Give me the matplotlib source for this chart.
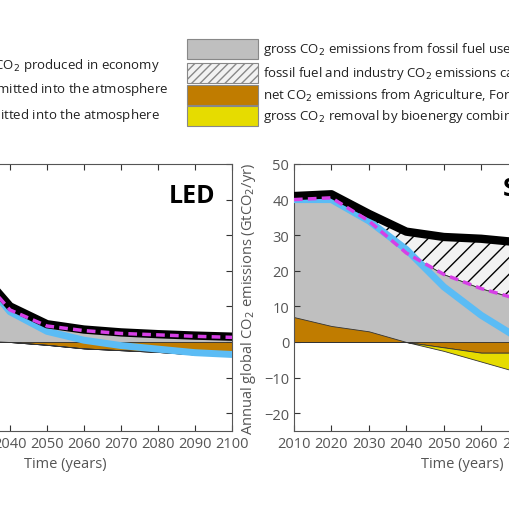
import numpy as np
import matplotlib.pyplot as plt
import matplotlib.patches as mpatches

plt.rcParams['font.family'] = ['Open Sans', 'DejaVu Sans']

years = [2010, 2020, 2030, 2040, 2050, 2060, 2070, 2080, 2090, 2100]

# LED
led_total = [40, 38, 22, 10, 5, 3.5, 2.7, 2.2, 1.8, 1.5]
led_fossil = [38, 36, 21, 9, 4.5, 3.2, 2.4, 2.0, 1.6, 1.3]
led_afolu = [3, 1.5, 0.5, 0, -0.8, -1.8, -2.3, -2.8, -3.5, -3.8]
led_net = [40, 38, 21, 8.5, 3, 0.5, -1, -2, -3, -3.5]

# S1
s1_total = [41, 41.5, 36, 31, 29.5, 29, 28, 27, 26.5, 26]
s1_fossil = [40, 40.5, 34, 25, 19, 15, 12, 10, 9, 8]
s1_afolu = [7, 4.5, 3, 0, -1.5, -3, -3, -3, -3, -3]
s1_beccs = [0, 0, 0, 0, 1, 2.5, 5.5, 9, 11, 12]
s1_net = [40, 40, 34, 26, 15.5, 7.5, 1, -5, -9, -12]


def panel(ax, total, fossil, afolu, net, beccs=None):
    y = np.array(years)
    total = np.array(total)
    fossil = np.array(fossil)
    afolu = np.array(afolu)
    beccs = np.zeros(len(y)) if beccs is None else np.array(beccs)
    ax.fill_between(y, 0, fossil, color='#bfbfbf', ec='#555555', lw=0.6, zorder=1)
    ax.fill_between(y, fossil, total, facecolor='#f2f2f2', edgecolor='black', hatch='//', lw=0.4, zorder=1)
    ax.fill_between(y, 0, afolu, color='#c07c00', ec='#333333', lw=0.6, zorder=2)
    low = np.minimum(afolu, 0)
    ax.fill_between(y, low, low - beccs, color='#e6dc00', ec='#333333', lw=0.6, zorder=2)
    ax.plot(y, net, color='#5bbcf5', lw=5, zorder=3)
    ax.plot(y, total, color='black', lw=6, zorder=4)
    ax.plot(y, fossil, color='#d63fe6', lw=2.5, ls=(0, (2.5, 1.5)), zorder=5)
    ax.set_xlim(2010, 2100)
    ax.set_ylim(-25, 50)
    ax.set_xticks(years)
    ax.set_yticks(range(-20, 51, 10))
    ax.tick_params(direction='in', top=True, right=True, labelsize=10.5, colors='#333333', labelcolor='#555555', length=4)
    ax.set_xlabel('Time (years)', color='#555555', fontsize=10.5)
    for s in ax.spines.values():
        s.set_color('#555555')


W = 510.0
fig = plt.figure(figsize=(5.1, 5.1), dpi=100)

ax1 = fig.add_axes([-101 / W, 78 / W, 333 / W, 267 / W])
panel(ax1, led_total, led_fossil, led_afolu, led_net)
ax1.text(0.95, 0.93, 'LED', transform=ax1.transAxes, ha='right', va='top', fontsize=18, fontweight='bold')

ax2 = fig.add_axes([294 / W, 78 / W, 337 / W, 267 / W])
panel(ax2, s1_total, s1_fossil, s1_afolu, s1_net, s1_beccs)
ax2.set_ylabel('Annual global CO$_2$ emissions (GtCO$_2$/yr)', color='#555555', fontsize=10.5)
fig.text(503 / W, 1 - 190 / W, 'S1', ha='left', va='center', fontsize=18, fontweight='bold')

# legend, left column (lines)
line_labels = ['total CO$_2$ produced in economy',
               'net CO$_2$ emissions emitted into the atmosphere',
               'fossil fuel CO$_2$ emitted into the atmosphere']
line_y = [65, 90, 115]
line_end = [160, 168, 160]
for lab, yy, xe in zip(line_labels, line_y, line_end):
    fig.text(xe / W, 1 - yy / W, lab, ha='right', va='center', fontsize=9.5, color='#222222')

# legend, right column (patches)
patch_labels = ['gross CO$_2$ emissions from fossil fuel use and industry',
                'fossil fuel and industry CO$_2$ emissions captured by CCS',
                'net CO$_2$ emissions from Agriculture, Forestry and Other Land Use',
                'gross CO$_2$ removal by bioenergy combined with CCS']
patch_style = [dict(facecolor='#bfbfbf'), dict(facecolor='#f2f2f2', hatch='////'),
               dict(facecolor='#c07c00'), dict(facecolor='#e6dc00')]
box_top = [40, 64, 86, 107]
for lab, st, top in zip(patch_labels, patch_style, box_top):
    r = mpatches.Rectangle((187 / W, 1 - (top + 20) / W), 71 / W, 20 / W, transform=fig.transFigure,
                           edgecolor='#888888', lw=0.8, **st)
    fig.patches.append(r)
    fig.text(263 / W, 1 - (top + 10) / W, lab, ha='left', va='center', fontsize=9.5, color='#222222')

fig.savefig('out.png', dpi=100)
